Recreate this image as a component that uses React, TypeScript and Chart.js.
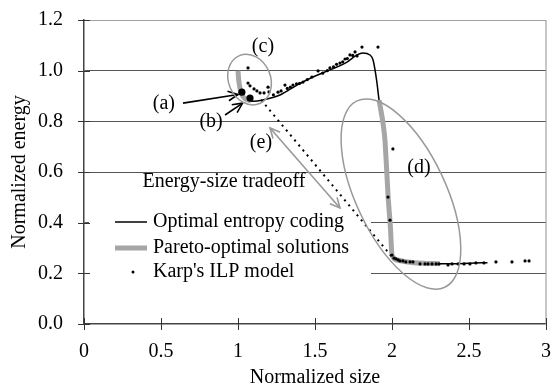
import React, { useEffect, useRef } from "react";
import { Chart, registerables } from "chart.js";

Chart.register(...registerables);

// ---- data ----
const xTickValues = [0, 0.5, 1, 1.5, 2, 2.5, 3];
const yTickValues = [0, 0.2, 0.4, 0.6, 0.8, 1.0, 1.2];

const entropyX = [1.0, 1.005, 1.015, 1.03, 1.06, 1.1, 1.16, 1.273, 1.383, 1.487, 1.597, 1.708, 1.773, 1.81, 1.857, 1.877, 1.9, 1.916, 1.94, 1.955, 1.975, 1.99, 2.0, 2.02, 2.1, 2.2, 2.3, 2.4, 2.5, 2.62];
const entropyY = [1.0, 0.96, 0.925, 0.9, 0.885, 0.879, 0.884, 0.904, 0.943, 0.975, 1.003, 1.034, 1.062, 1.07, 1.062, 1.042, 0.963, 0.884, 0.8, 0.72, 0.5, 0.38, 0.272, 0.255, 0.245, 0.24, 0.238, 0.238, 0.24, 0.242];

const paretoX = [1.0, 1.005, 1.015, 1.03, 1.055, 1.085, 1.5, 1.916, 1.94, 1.955, 1.975, 1.99, 2.0, 2.02, 2.1, 2.2, 2.31];
const paretoY = [1.0, 0.96, 0.925, 0.9, 0.886, 0.881, null, 0.884, 0.8, 0.72, 0.5, 0.38, 0.272, 0.255, 0.245, 0.24, 0.238];

const tradeoffX = [1.15, 2.0];
const tradeoffY = [0.885, 0.265];

const karpX = [1.065, 1.065, 1.078, 1.104, 1.123, 1.143, 1.169, 1.195, 1.201, 1.23, 1.26, 1.28, 1.305, 1.32, 1.34, 1.357, 1.38, 1.4, 1.422, 1.45, 1.48, 1.52, 1.55, 1.58, 1.597, 1.62, 1.64, 1.662, 1.68, 1.695, 1.71, 1.727, 1.745, 1.76, 1.773, 1.805, 1.909, 2.006, 1.974, 1.987, 2.0, 2.013, 2.026, 2.04, 2.052, 2.071, 2.09, 2.117, 2.136, 2.182, 2.214, 2.234, 2.26, 2.286, 2.305, 2.364, 2.39, 2.429, 2.468, 2.506, 2.545, 2.597, 2.675, 2.779, 2.864, 2.89];
const karpY = [1.011, 0.951, 0.94, 0.928, 0.92, 0.912, 0.912, 0.935, 0.916, 0.905, 0.915, 0.92, 0.943, 0.93, 0.935, 0.943, 0.948, 0.95, 0.955, 0.965, 0.975, 0.999, 0.99, 1.0, 1.011, 1.015, 1.025, 1.03, 1.035, 1.046, 1.048, 1.062, 1.06, 1.074, 1.058, 1.093, 1.093, 0.691, 0.501, 0.41, 0.272, 0.26, 0.257, 0.253, 0.249, 0.249, 0.245, 0.245, 0.245, 0.237, 0.237, 0.237, 0.237, 0.237, 0.237, 0.233, 0.237, 0.237, 0.237, 0.237, 0.241, 0.241, 0.245, 0.245, 0.249, 0.249];

const highlightX = [1.025, 1.078];
const highlightY = [0.915, 0.892];

const legendLabels = ["Optimal entropy coding", "Pareto-optimal solutions", "Karp's ILP model"];

const FONT = "'Liberation Serif', 'Times New Roman', serif";

function pts(xs: number[], ys: (number | null)[]) {
  return xs.map((x, i) => ({ x, y: ys[i] }));
}

function arrowHead(ctx: CanvasRenderingContext2D, x1: number, y1: number, x2: number, y2: number, len: number) {
  const a = Math.atan2(y2 - y1, x2 - x1);
  const s = 0.45;
  ctx.beginPath();
  ctx.moveTo(x2 - len * Math.cos(a - s), y2 - len * Math.sin(a - s));
  ctx.lineTo(x2, y2);
  ctx.lineTo(x2 - len * Math.cos(a + s), y2 - len * Math.sin(a + s));
  ctx.stroke();
}

function arrow(ctx: CanvasRenderingContext2D, x1: number, y1: number, x2: number, y2: number, color: string, both: boolean) {
  ctx.save();
  ctx.strokeStyle = color;
  ctx.lineWidth = 1.6;
  ctx.lineJoin = "miter";
  ctx.beginPath();
  ctx.moveTo(x1, y1);
  ctx.lineTo(x2, y2);
  ctx.stroke();
  arrowHead(ctx, x1, y1, x2, y2, 11);
  if (both) arrowHead(ctx, x2, y2, x1, y1, 11);
  ctx.restore();
}

const overlayPlugin = {
  id: "overlay",
  beforeDatasetsDraw(chart: any) {
    const { ctx, chartArea: ca } = chart;
    ctx.save();
    ctx.fillStyle = "#ffffff";
    ctx.fillRect(ca.left + 5, ca.top + 172, 282, 106);
    ctx.restore();
  },
  afterDraw(chart: any) {
    const { ctx, chartArea: ca, scales } = chart;
    const xs = scales.x;
    const ys = scales.y;
    const px = (v: number) => xs.getPixelForValue(v);
    const py = (v: number) => ys.getPixelForValue(v);
    ctx.save();
    // right border
    ctx.strokeStyle = "#a0a0a0";
    ctx.lineWidth = 1.2;
    ctx.beginPath();
    ctx.moveTo(ca.right, ca.top);
    ctx.lineTo(ca.right, ca.bottom);
    ctx.stroke();
    // crossing tick marks
    ctx.strokeStyle = "#333";
    ctx.lineWidth = 1;
    yTickValues.forEach((v) => {
      const y = Math.round(py(v)) + 0.5;
      ctx.beginPath();
      ctx.moveTo(ca.left - 6, y);
      ctx.lineTo(ca.left + 6, y);
      ctx.stroke();
    });
    xTickValues.forEach((v) => {
      const x = Math.round(px(v)) + 0.5;
      ctx.beginPath();
      ctx.moveTo(x, ca.bottom - 6);
      ctx.lineTo(x, ca.bottom + 6);
      ctx.stroke();
    });

    // legend
    const lx = ca.left + 31;
    const rows = [ca.top + 202, ca.top + 228, ca.top + 252];
    ctx.strokeStyle = "#000";
    ctx.lineWidth = 1.5;
    ctx.beginPath();
    ctx.moveTo(lx, rows[0]);
    ctx.lineTo(lx + 32, rows[0]);
    ctx.stroke();
    ctx.strokeStyle = "#a6a6a6";
    ctx.lineWidth = 5;
    ctx.beginPath();
    ctx.moveTo(lx, rows[1]);
    ctx.lineTo(lx + 32, rows[1]);
    ctx.stroke();
    ctx.fillStyle = "#000";
    ctx.beginPath();
    ctx.arc(lx + 18, rows[2], 1.5, 0, Math.PI * 2);
    ctx.fill();
    ctx.font = `20px ${FONT}`;
    ctx.textBaseline = "middle";
    ctx.textAlign = "left";
    legendLabels.forEach((t, i) => ctx.fillText(t, lx + 38, rows[i]));

    // annotations text
    ctx.textAlign = "center";
    const label = (t: string, x: number, y: number) => ctx.fillText(t, px(x), py(y));
    label("(a)", 0.519, 0.868);
    label("(b)", 0.825, 0.797);
    label("(c)", 1.162, 1.093);
    label("(d)", 2.175, 0.616);
    label("(e)", 1.149, 0.714);
    label("Energy-size tradeoff", 0.909, 0.561);

    // arrows
    arrow(ctx, px(0.643), py(0.872), px(1.0), py(0.906), "#000", false);
    arrow(ctx, px(0.916), py(0.825), px(1.03), py(0.872), "#000", false);
    arrow(ctx, px(1.208), py(0.774), px(1.662), py(0.458), "#999", true);

    // ellipses
    ctx.strokeStyle = "#999";
    ctx.lineWidth = 1.5;
    ctx.beginPath();
    ctx.ellipse(px(1.075), py(0.965), 21, 26, -0.4, 0, Math.PI * 2);
    ctx.stroke();
    ctx.beginPath();
    ctx.ellipse(px(2.058), py(0.513), 45, 103, -0.44, 0, Math.PI * 2);
    ctx.stroke();
    ctx.restore();
  },
};

function zeroPad(s: any) {
  s.paddingTop = 0;
  s.paddingBottom = 0;
  s.paddingLeft = 0;
  s.paddingRight = 0;
}

export default function App() {
  const ref = useRef<HTMLCanvasElement | null>(null);
  useEffect(() => {
    document.body.style.margin = "0";
    const canvas = ref.current;
    if (!canvas) return;
    const chart = new Chart(canvas, {
      type: "scatter",
      data: {
        datasets: [
          {
            label: "highlight",
            data: pts(highlightX, highlightY),
            showLine: false,
            pointRadius: 3.6,
            pointBackgroundColor: "#000",
            pointBorderWidth: 0,
          },
          {
            label: legendLabels[2],
            data: pts(karpX, karpY),
            showLine: false,
            pointRadius: 1.6,
            pointBackgroundColor: "#000",
            pointBorderWidth: 0,
          },
          {
            label: "tradeoff",
            data: pts(tradeoffX, tradeoffY),
            showLine: true,
            borderColor: "#000",
            borderWidth: 2,
            borderDash: [2, 4.5],
            pointRadius: 0,
          },
          {
            label: legendLabels[1],
            data: pts(paretoX, paretoY),
            showLine: true,
            spanGaps: false,
            borderColor: "#a6a6a6",
            borderWidth: 5,
            pointRadius: 0,
            tension: 0.2,
          },
          {
            label: legendLabels[0],
            data: pts(entropyX, entropyY),
            showLine: true,
            borderColor: "#000",
            borderWidth: 1.5,
            pointRadius: 0,
            cubicInterpolationMode: "monotone",
          },
        ],
      },
      options: {
        responsive: false,
        animation: false,
        devicePixelRatio: 1,
        layout: { padding: { top: 20, right: 7, left: 0, bottom: 0 } },
        plugins: { legend: { display: false }, tooltip: { enabled: false } },
        events: [],
        scales: {
          x: {
            type: "linear",
            min: 0,
            max: 3,
            afterBuildTicks: (s: any) => {
              s.ticks = xTickValues.map((v) => ({ value: v }));
            },
            afterFit: (s: any) => {
              s.height = 64;
              zeroPad(s);
            },
            grid: { display: false, drawTicks: false },
            border: { display: true, color: "#444", width: 1.5 },
            ticks: {
              color: "#000",
              padding: 16,
              font: { family: FONT, size: 20 },
              maxRotation: 0,
              autoSkip: false,
              callback: (v: any) => String(v),
            },
            title: {
              display: true,
              text: "Normalized size",
              color: "#000",
              padding: 0,
              font: { family: FONT, size: 20, lineHeight: 1 },
            },
          },
          y: {
            type: "linear",
            min: 0,
            max: 1.2,
            afterBuildTicks: (s: any) => {
              s.ticks = yTickValues.map((v) => ({ value: v }));
            },
            afterFit: (s: any) => {
              s.width = 84;
              zeroPad(s);
            },
            grid: {
              drawTicks: false,
              lineWidth: 1,
              color: (c: any) => {
                const v = c.tick ? c.tick.value : 0;
                if (Math.abs(v) < 1e-6) return "rgba(0,0,0,0)";
                if (Math.abs(v - 1.2) < 1e-6) return "#a0a0a0";
                return "#555";
              },
            },
            border: { display: true, color: "#444", width: 1.5 },
            ticks: {
              color: "#000",
              padding: 21,
              font: { family: FONT, size: 20 },
              autoSkip: false,
              callback: (v: any) => Number(v).toFixed(1),
            },
            title: {
              display: true,
              text: "Normalized energy",
              color: "#000",
              padding: { top: 10, bottom: 0 },
              font: { family: FONT, size: 20, lineHeight: 1 },
            },
          },
        },
      },
      plugins: [overlayPlugin],
    } as any);
    return () => chart.destroy();
  }, []);
  return <canvas ref={ref} width={553} height={388} style={{ display: "block", width: 553, height: 388 }} />;
}
